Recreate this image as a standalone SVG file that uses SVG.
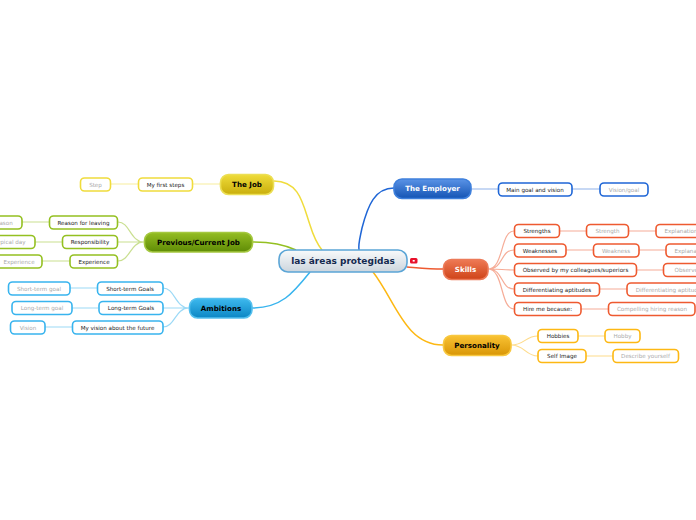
<svg xmlns="http://www.w3.org/2000/svg" width="696" height="520" viewBox="0 0 696 520">
<defs>
<linearGradient id="gc" x1="0" y1="0" x2="0" y2="1"><stop offset="0" stop-color="#f8fafb"/><stop offset="1" stop-color="#ccd5dd"/></linearGradient>
<linearGradient id="gj" x1="0" y1="0" x2="0" y2="1"><stop offset="0" stop-color="#efdc3a"/><stop offset="1" stop-color="#c9ae0c"/></linearGradient>
<linearGradient id="gp" x1="0" y1="0" x2="0" y2="1"><stop offset="0" stop-color="#94bd22"/><stop offset="1" stop-color="#5f8c06"/></linearGradient>
<linearGradient id="ga" x1="0" y1="0" x2="0" y2="1"><stop offset="0" stop-color="#3db9ee"/><stop offset="1" stop-color="#0c86c4"/></linearGradient>
<linearGradient id="ge" x1="0" y1="0" x2="0" y2="1"><stop offset="0" stop-color="#5a93e6"/><stop offset="1" stop-color="#1454b4"/></linearGradient>
<linearGradient id="gs" x1="0" y1="0" x2="0" y2="1"><stop offset="0" stop-color="#ee7a55"/><stop offset="1" stop-color="#cf4318"/></linearGradient>
<linearGradient id="gl" x1="0" y1="0" x2="0" y2="1"><stop offset="0" stop-color="#f9c233"/><stop offset="1" stop-color="#d99606"/></linearGradient>
</defs>
<style>
text{font-family:"DejaVu Sans",Verdana,sans-serif;text-anchor:middle;dominant-baseline:central}
.t{font-size:7.1px;font-weight:bold}
.s{font-size:5.6px;fill:#222}
.g{font-size:5.6px;fill:#aaa}
rect{stroke-width:1.6;fill:#fff}
.c path{fill:none}
.yl{stroke:#f0dc3c}.gr{stroke:#94c021}.bl{stroke:#38b4ee}.db{stroke:#1f66d6}.rd{stroke:#ee5a30}.or{stroke:#fdb813}
.c .l{stroke-width:1.2;opacity:.5}
.c .m{stroke-width:1.5}
</style>
<g id="connectors" class="c">
<path class="m yl" d="M274 181C300 181 303 205 310 225C314 238 318 245 322 250"/>
<path class="m gr" d="M253 242C270 242 283 244 296 250"/>
<path class="m bl" d="M252 308C282 308 294 292 310 272"/>
<path class="m db" d="M394 188C375 188 368 205 362 228C360 238 358 244 359 250"/>
<path class="m rd" d="M407 267C420 268 430 269 443 269"/>
<path class="m or" d="M373 272C395 300 405 345 443 345"/>
<path class="l yl" d="M220 184H193M138 184H111"/>
<path class="l gr" d="M144 242C130 242 130 222 118 222M144 242H118M144 242C130 242 130 261 118 261M49 222H22M62 242H35M70 261H42"/>
<path class="l bl" d="M189 308C175 308 175 288 163 288M189 308H163M189 308C175 308 175 327 163 327M97 288H70M98 308H72M72 327H45"/>
<path class="l db" d="M471 189H498M572 189H600"/>
<path class="l rd" d="M488 269C504 269 500 231 514 231M488 269C504 269 500 250 514 250M488 269C504 269 500 270 514 270M488 269C504 269 500 289 514 289M488 269C504 269 500 309 514 309M559 231H586M628 231H656M566 250H593M639 250H666M636 270H663M599 289H627M581 309H608"/>
<path class="l or" d="M511 345C525 345 525 336 538 336M511 345C525 345 525 356 538 356M578 336H605M586 356H613"/>
</g>
<g id="center"><rect x="279" y="250" width="128" height="22" rx="9" style="fill:url(#gc);stroke:#5ba5d6"/><text x="343" y="261" style="font-size:9px;font-weight:bold;fill:#14294f">las áreas protegidas</text></g>
<g id="icon"><rect x="410" y="258" width="7.500" height="5.500" rx="1.500" style="fill:#e8102a;stroke:none"/><rect x="412.700" y="260" width="2" height="1.600" style="fill:#fff;stroke:none"/></g>
<g id="the-job"><rect x="220.500" y="174.500" width="53" height="20" rx="8" style="fill:url(#gj);stroke:#ecdf55"/><text class="t" x="247" y="184.500">The Job</text></g>
<g id="first-steps"><rect x="138.500" y="178" width="54" height="13" rx="4" class="yl"/><text class="s" x="165.500" y="184.500">My first steps</text></g>
<g id="step"><rect x="80.500" y="178" width="30" height="13" rx="4" class="yl"/><text class="g" x="95.500" y="184.500">Step</text></g>
<g id="previous"><rect x="144.500" y="232.500" width="108" height="19.500" rx="8" style="fill:url(#gp);stroke:#a5c840"/><text class="t" x="198.500" y="242">Previous/Current Job</text></g>
<g id="leaving"><rect x="49.500" y="216" width="68" height="13" rx="4" class="gr"/><text class="s" x="83.500" y="222.500">Reason for leaving</text></g>
<g id="reason"><rect x="-20" y="216" width="42" height="13" rx="4" class="gr"/><text class="g" x="2.500" y="222.500">Reason</text></g>
<g id="responsibility"><rect x="62.500" y="235.500" width="55" height="13" rx="4" class="gr"/><text class="s" x="90" y="242">Responsibility</text></g>
<g id="typical"><rect x="-20" y="235.500" width="55" height="13" rx="4" class="gr"/><text class="g" x="10" y="242">Typical day</text></g>
<g id="experience"><rect x="70" y="255" width="47.500" height="13" rx="4" class="gr"/><text class="s" x="94" y="261.500">Experience</text></g>
<g id="experience-2"><rect x="-10" y="255" width="52" height="13" rx="4" class="gr"/><text class="g" x="19" y="261.500">Experience</text></g>
<g id="ambitions"><rect x="189.500" y="298.500" width="62.500" height="19.500" rx="8" style="fill:url(#ga);stroke:#55c0ee"/><text class="t" x="221" y="308">Ambitions</text></g>
<g id="short-goals"><rect x="97.500" y="282" width="65.500" height="13" rx="4" class="bl"/><text class="s" x="130" y="288.500">Short-term Goals</text></g>
<g id="short-goal"><rect x="8.500" y="282" width="61.500" height="13" rx="4" class="bl"/><text class="g" x="39" y="288.500">Short-term goal</text></g>
<g id="long-goals"><rect x="99" y="301.500" width="64" height="13" rx="4" class="bl"/><text class="s" x="131" y="308">Long-term Goals</text></g>
<g id="long-goal"><rect x="12" y="301.500" width="60" height="13" rx="4" class="bl"/><text class="g" x="42" y="308">Long-term goal</text></g>
<g id="my-vision"><rect x="72.500" y="321" width="90.500" height="13" rx="4" class="bl"/><text class="s" x="117.500" y="327.500">My vision about the future</text></g>
<g id="vision"><rect x="10.500" y="321" width="34.500" height="13" rx="4" class="bl"/><text class="g" x="28" y="327.500">Vision</text></g>
<g id="employer"><rect x="394" y="179" width="77" height="19.500" rx="8" style="fill:url(#ge);stroke:#3f80dc"/><text class="t" x="432.500" y="188.500" style="fill:#fff">The Employer</text></g>
<g id="main-goal"><rect x="498.500" y="183" width="73.500" height="13" rx="4" class="db"/><text class="s" x="535" y="189.500">Main goal and vision</text></g>
<g id="vision-goal"><rect x="600" y="183" width="48" height="13" rx="4" class="db"/><text class="g" x="624" y="189.500">Vision/goal</text></g>
<g id="skills"><rect x="443.500" y="259.500" width="44.500" height="20" rx="8" style="fill:url(#gs);stroke:#ec7a58"/><text class="t" x="465.500" y="269.500" style="fill:#fff">Skills</text></g>
<g id="strengths"><rect x="514.500" y="224.500" width="45" height="13" rx="4" class="rd"/><text class="s" x="537" y="231">Strengths</text></g>
<g id="strength"><rect x="586.500" y="224.500" width="42" height="13" rx="4" class="rd"/><text class="g" x="607.500" y="231">Strength</text></g>
<g id="explanation-1"><rect x="656" y="224.500" width="60" height="13" rx="4" class="rd"/><text class="g" x="681" y="231">Explanation</text></g>
<g id="weaknesses"><rect x="514.500" y="244" width="51.500" height="13" rx="4" class="rd"/><text class="s" x="540" y="250.500">Weaknesses</text></g>
<g id="weakness"><rect x="593.500" y="244" width="45.500" height="13" rx="4" class="rd"/><text class="g" x="616" y="250.500">Weakness</text></g>
<g id="explanation-2"><rect x="666" y="244" width="60" height="13" rx="4" class="rd"/><text class="g" x="691" y="250.500">Explanation</text></g>
<g id="observed"><rect x="514.500" y="263.500" width="122" height="13" rx="4" class="rd"/><text class="s" x="575.500" y="270">Observed by my colleagues/superiors</text></g>
<g id="observed-2"><rect x="663.500" y="263.500" width="60" height="13" rx="4" class="rd"/><text class="g" x="688" y="270">Observed</text></g>
<g id="differentiating"><rect x="514.500" y="283" width="85" height="13" rx="4" class="rd"/><text class="s" x="557" y="289.500">Differentiating aptitudes</text></g>
<g id="differentiating-2"><rect x="627" y="283" width="100" height="13" rx="4" class="rd"/><text class="g" x="670" y="289.500">Differentiating aptitudes</text></g>
<g id="hire"><rect x="514.500" y="302.500" width="66.500" height="13" rx="4" class="rd"/><text class="s" x="547.500" y="309">Hire me because:</text></g>
<g id="compelling"><rect x="608.500" y="302.500" width="86.500" height="13" rx="4" class="rd"/><text class="g" x="652" y="309">Compelling hiring reason</text></g>
<g id="personality"><rect x="443.500" y="335.500" width="67.500" height="20" rx="8" style="fill:url(#gl);stroke:#f8c840"/><text class="t" x="477" y="345.500">Personality</text></g>
<g id="hobbies"><rect x="538" y="329.500" width="40" height="13" rx="4" class="or"/><text class="s" x="558" y="336">Hobbies</text></g>
<g id="hobby"><rect x="605" y="329.500" width="35" height="13" rx="4" class="or"/><text class="g" x="622.500" y="336">Hobby</text></g>
<g id="self-image"><rect x="538" y="349.500" width="48" height="13" rx="4" class="or"/><text class="s" x="562" y="356">Self Image</text></g>
<g id="describe"><rect x="613" y="349.500" width="65.500" height="13" rx="4" class="or"/><text class="g" x="645.500" y="356">Describe yourself</text></g>
</svg>
